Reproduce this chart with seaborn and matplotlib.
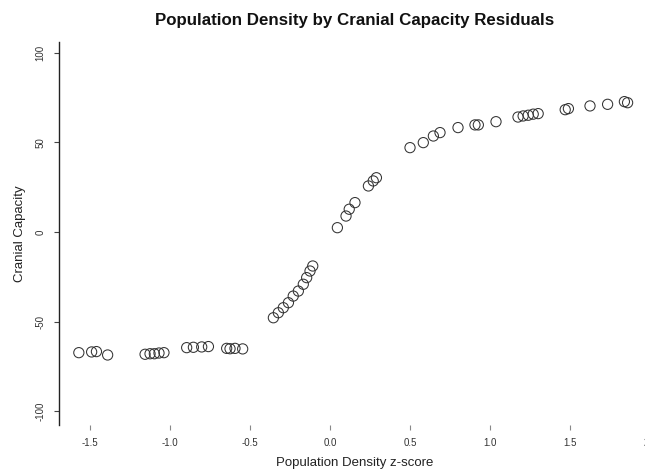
import matplotlib
matplotlib.use("Agg")
import matplotlib.pyplot as plt
import seaborn as sns
import pandas as pd

# ---- data ----
density_z = [
    -1.57, -1.49, -1.46, -1.39,
    -1.156, -1.125, -1.098, -1.069, -1.038,
    -0.896, -0.854, -0.802, -0.76,
    -0.646, -0.625, -0.594, -0.546,
    -0.354, -0.323, -0.292, -0.26, -0.23, -0.198, -0.167, -0.146, -0.125, -0.108,
    0.046, 0.10, 0.12, 0.156, 0.24, 0.27, 0.29,
    0.50, 0.583, 0.646, 0.6875, 0.80, 0.906, 0.927, 1.0375,
    1.175, 1.207, 1.239, 1.270, 1.301,
    1.47, 1.49, 1.625, 1.735, 1.84, 1.86,
]
cranial = [
    -67.4, -67.0, -66.8, -68.7,
    -68.3, -68.0, -68.0, -67.6, -67.4,
    -64.6, -64.4, -64.2, -64.0,
    -65.0, -65.2, -65.0, -65.3,
    -47.9, -45.1, -42.3, -39.5, -35.8, -33.0, -29.2, -25.5, -21.8, -19.0,
    2.4, 8.9, 12.7, 16.4, 25.7, 28.5, 30.3,
    47.1, 49.9, 53.6, 55.5, 58.3, 59.8, 59.8, 61.6,
    64.2, 64.8, 65.2, 65.8, 66.1,
    68.3, 68.9, 70.4, 71.3, 72.8, 72.2,
]
x_ticks = [-1.5, -1.0, -0.5, 0.0, 0.5, 1.0, 1.5, 2.0]
x_tick_labels = ["-1.5", "-1.0", "-0.5", "0.0", "0.5", "1.0", "1.5", "2.0"]
y_ticks = [-100, -50, 0, 50, 100]
y_tick_labels = ["-100", "-50", "0", "50", "100"]

df = pd.DataFrame({"z": density_z, "cc": cranial})

sns.set_style("white")
plt.rcParams["font.family"] = ["Liberation Sans", "DejaVu Sans"]

fig = plt.figure(figsize=(6.45, 4.69), dpi=100)
ax = fig.add_axes([59 / 645, 1 - 425 / 469, (650 - 59) / 645, (425 - 42) / 469])

sns.scatterplot(data=df, x="z", y="cc", ax=ax, marker="o", s=54,
                facecolor="none", edgecolor="#333333", linewidth=0.75)

ax.set_xlim(-1.694, 2.0)
ax.set_ylim(-107.8, 106.1)

ax.set_xticks(x_ticks)
ax.set_xticklabels(x_tick_labels)
ax.set_yticks(y_ticks)
ax.set_yticklabels(y_tick_labels, rotation=90, va="center")

for side in ["top", "right", "bottom"]:
    ax.spines[side].set_visible(False)
ax.spines["left"].set_color("#222222")
ax.spines["left"].set_linewidth(1.0)

ax.tick_params(axis="x", bottom=True, length=3.5, width=0.8, color="#888888",
               labelsize=7, labelcolor="#333333", pad=6)
ax.tick_params(axis="y", left=True, length=3.5, width=0.8, color="#444444",
               labelsize=7, labelcolor="#333333", pad=6)

ax.set_xlabel("Population Density z-score", fontsize=9.5, color="#222222", labelpad=6)
ax.set_ylabel("Cranial Capacity", fontsize=9.5, color="#222222", labelpad=7)
ax.set_title("Population Density by Cranial Capacity Residuals",
             fontsize=12.2, fontweight="bold", color="#111111", pad=12)

fig.savefig("out.png", dpi=100)
